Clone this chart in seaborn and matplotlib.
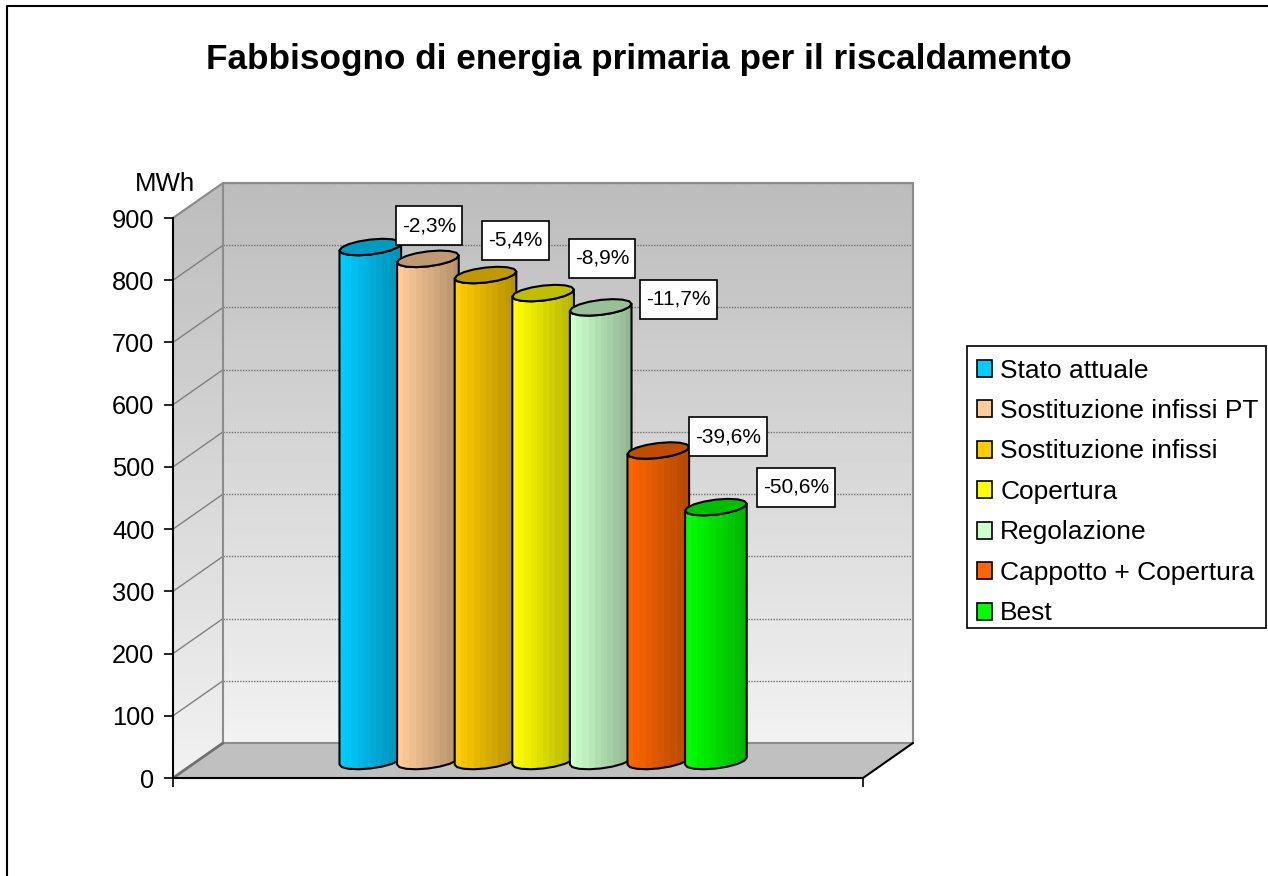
import numpy as np
import pandas as pd
import seaborn as sns
from matplotlib import pyplot as plt
from matplotlib.colors import LinearSegmentedColormap, to_rgb
from matplotlib.lines import Line2D
from matplotlib.patches import Patch, Polygon, Rectangle
from matplotlib.path import Path
from matplotlib.transforms import Affine2D

scenarios = ["Stato attuale", "Sostituzione infissi PT", "Sostituzione infissi", "Copertura",
             "Regolazione", "Cappotto + Copertura", "Best"]
mwh = [826, 807, 781, 752, 729, 499, 408]
labels = [None, "-2,3%", "-5,4%", "-8,9%", "-11,7%", "-39,6%", "-50,6%"]
colors = ["#00CCFF", "#FFCC99", "#FFCC00", "#FFFF00", "#CCFFCC", "#FF6600", "#00FF00"]
yticks = [0, 100, 200, 300, 400, 500, 600, 700, 800, 900]

# offset of each label box from the top of its bar, in pixels
label_offsets = [None, (1, 33), (30, 35), (59, 35), (78, 8), (70, 14), (80, 20)]

W, H = 1268, 876
PITCH = 57.6  # px per category
PX_Y = 560 / 900  # px per MWh


def label_box(x, y, w, h, mutation_size):
    # wider vertical padding than a stock boxstyle gives
    x, y, w, h = x - 6, y - 10, w + 12, h + 20
    return Path([(x, y), (x + w, y), (x + w, y + h), (x, y + h), (x, y)], closed=True)


sns.set_theme(style="white")
plt.rcParams['font.family'] = ['Liberation Sans', 'DejaVu Sans']

fig = plt.figure(figsize=(W / 100, H / 100), dpi=100, facecolor="white")
ax = fig.add_axes([173 / W, (H - 778) / H, 690 / W, 560 / H])
ax.patch.set_visible(False)

df = pd.DataFrame({"scenario": scenarios, "mwh": mwh})
sns.barplot(data=df, x="scenario", y="mwh", hue="scenario", hue_order=scenarios, palette=colors,
            dodge=False, width=1.07, saturation=1, legend=False, ax=ax)
bars = sorted(ax.patches, key=lambda b: b.get_x())

x0 = -3.0
x1 = x0 + 690 / PITCH
# depth of the box and position of the bars inside it, in data units
DX, DY = 50 / PITCH, 35 / PX_Y
BX, BY = 24.5 / PITCH, 17 / PX_Y

# walls
wall = np.linspace(0, 1, 64).reshape(-1, 1)
wall_cmap = LinearSegmentedColormap.from_list("wall", ["#BDBDBD", "#F2F2F2"])
ax.imshow(wall, extent=(x0 + DX, x1 + DX, DY, 900 + DY), origin="upper", aspect="auto",
          cmap=wall_cmap, zorder=0, clip_on=False)
side = ax.imshow(wall, extent=(x0, x0 + DX, 0, 900 + DY), origin="upper", aspect="auto",
                 cmap=wall_cmap, zorder=0)
side_poly = Polygon([(x0, 0), (x0, 900), (x0 + DX, 900 + DY), (x0 + DX, DY)], closed=True,
                    fc="none", ec="none", clip_on=False)
ax.add_patch(side_poly)
side.set_clip_box(fig.bbox)
side.set_clip_path(side_poly)
ax.add_patch(Polygon([(x0, 0), (x0 + DX, DY), (x1 + DX, DY), (x1, 0)], closed=True,
                     fc="#C0C0C0", ec="none", zorder=1, clip_on=False))

for t in yticks[1:]:
    ax.plot([x0 + DX, x1 + DX], [t + DY, t + DY], color="#707070", lw=1, ls=(0, (1, 1)), zorder=2, clip_on=False)
    ax.plot([x0, x0 + DX], [t, t + DY], color="#808080", lw=1, zorder=2, clip_on=False)
ax.plot([x0, x0 + DX, x1 + DX, x1 + DX], [900, 900 + DY, 900 + DY, DY],
        color="#8C8C8C", lw=1.5, zorder=2, clip_on=False)
ax.plot([x0 + DX, x0 + DX, x1 + DX], [900 + DY, DY, DY], color="#8C8C8C", lw=1.5, zorder=2, clip_on=False)
ax.plot([x0, x0 + DX], [0, DY], color="#707070", lw=2, zorder=2, clip_on=False)
ax.plot([x1, x1 + DX], [0, DY], color="black", lw=1.5, zorder=2, clip_on=False)

# turn the flat seaborn bars into cylinders
bar_shift = Affine2D().translate(BX, BY) + ax.transData
RY = 7.5 / PX_Y
TILT = 3.5 / PX_Y
a = np.linspace(np.pi, 2 * np.pi, 9)
for i, p in enumerate(bars):
    px, w, v = p.get_x(), p.get_width(), p.get_height()
    p.set_visible(False)
    cx = px + w / 2
    z = 10 + i * 2
    low = np.column_stack([cx + w / 2 * np.cos(a), RY * np.sin(a) + TILT * np.cos(a)])
    high = np.column_stack([cx + w / 2 * np.cos(a), -RY * np.sin(a) + TILT * np.cos(a)])
    body = np.vstack([low, (low + [0, v])[::-1]])
    rgb = np.array(to_rgb(colors[i]))
    shades = np.linspace(1, 0.72, 10).reshape(1, -1, 1) * rgb.reshape(1, 1, 3)
    im = ax.imshow(shades, extent=(px, px + w, -RY - TILT, v + RY + TILT), aspect="auto",
                   interpolation="nearest", zorder=z, transform=bar_shift)
    outline = Polygon(body, closed=True, fc="none", ec="black", lw=1.5, zorder=z + 0.5,
                      transform=bar_shift, clip_on=False, joinstyle="round")
    ax.add_patch(outline)
    im.set_clip_path(outline)
    cap = np.vstack([low, high[::-1]]) + [0, v]
    ax.add_patch(Polygon(cap, closed=True, fc=rgb * 0.75, ec="black", lw=1.5, zorder=z + 1,
                         transform=bar_shift, clip_on=False, joinstyle="round"))
    if labels[i]:
        ax.annotate(labels[i], xy=(cx + BX, v + BY), xytext=label_offsets[i], textcoords="offset pixels",
                    ha="center", va="center", fontsize=15, color="black", zorder=40, annotation_clip=False,
                    bbox=dict(boxstyle=label_box, fc="white", ec="black", lw=1.2))

ax.set_xlim(x0, x1)
ax.set_ylim(0, 900)
ax.set_xticks([x0, x1], ["", ""])
ax.set_yticks(yticks)
ax.set_xlabel("")
ax.set_ylabel("")
ax.tick_params(axis="both", length=6.5, width=1.2, color="black", labelsize=18.3, labelcolor="black", pad=7,
               left=True, bottom=True)
sns.despine(ax=ax)
for s in ["left", "bottom"]:
    ax.spines[s].set_color("black")
    ax.spines[s].set_linewidth(1.5)
    ax.spines[s].set_zorder(5)

# legend box is drawn on its own so that the rows can be looser than the frame padding
fig.add_artist(Rectangle((967 / W, 1 - 628 / H), 299 / W, 282 / H, fc="white", ec="black", lw=1.2,
                         transform=fig.transFigure, zorder=49))
handles = [Patch(fc=c, ec="black", lw=1.2, label=s) for c, s in zip(colors, scenarios)]
leg = fig.legend(handles=handles, loc="upper left", bbox_to_anchor=(967 / W, 1 - 349 / H),
                 bbox_transform=fig.transFigure, fontsize=19, frameon=False, labelcolor="black",
                 borderaxespad=0, handlelength=0.6, handleheight=0.6, handletextpad=0.3,
                 labelspacing=0.625, borderpad=0.36)
leg.set_zorder(50)

fig.text(639 / W, 1 - 60 / H, "Fabbisogno di energia primaria per il riscaldamento", ha="center", va="center",
         fontsize=25.3, fontweight="bold", color="black")
fig.text(165 / W, 1 - 184 / H, "MWh", ha="center", va="center", fontsize=18.6, color="black")

# chart border, only left and top fall inside the picture
fig.add_artist(Line2D([7 / W, 7 / W, 1], [0, 1 - 6 / H, 1 - 6 / H], color="black", lw=1.5, transform=fig.transFigure))

fig.savefig("out.png", dpi=100)
